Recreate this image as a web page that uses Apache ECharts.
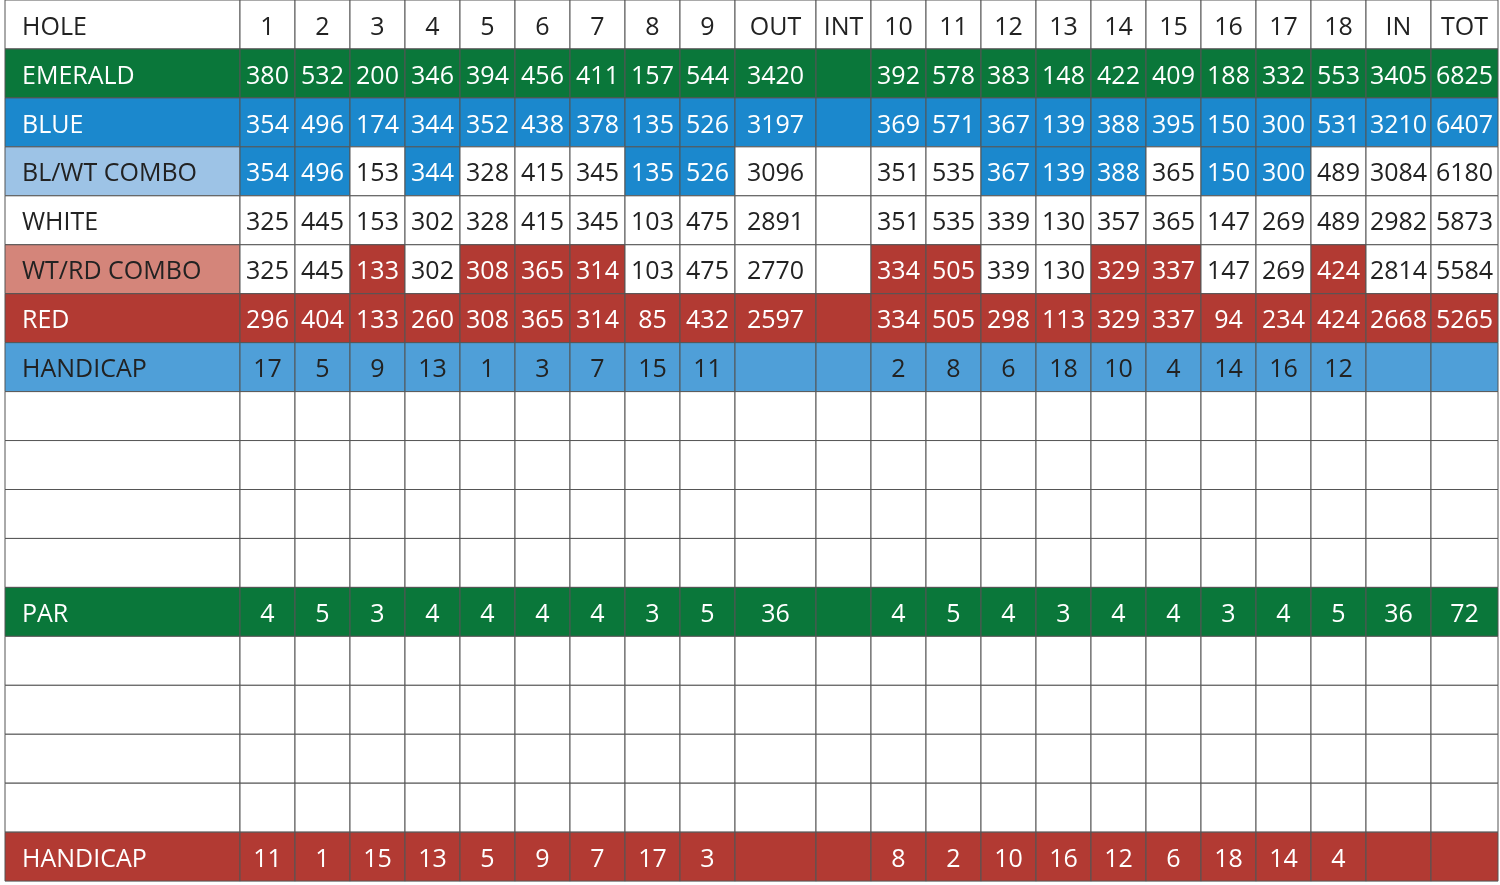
<!DOCTYPE html>
<html><head><meta charset="utf-8">
<style>html,body{margin:0;padding:0;background:#fff}#chart{width:1500px;height:885px}</style>
<script src="https://cdn.jsdelivr.net/npm/echarts@6/dist/echarts.min.js"></script>
</head><body><div id="chart"></div>
<script>
var columns = ['HOLE','1','2','3','4','5','6','7','8','9','OUT','INT','10','11','12','13','14','15','16','17','18','IN','TOT'];
var emerald = ['380','532','200','346','394','456','411','157','544','3420','','392','578','383','148','422','409','188','332','553','3405','6825'];
var blue    = ['354','496','174','344','352','438','378','135','526','3197','','369','571','367','139','388','395','150','300','531','3210','6407'];
var blwt    = ['354','496','153','344','328','415','345','135','526','3096','','351','535','367','139','388','365','150','300','489','3084','6180'];
var white   = ['325','445','153','302','328','415','345','103','475','2891','','351','535','339','130','357','365','147','269','489','2982','5873'];
var wtrd    = ['325','445','133','302','308','365','314','103','475','2770','','334','505','339','130','329','337','147','269','424','2814','5584'];
var red     = ['296','404','133','260','308','365','314','85','432','2597','','334','505','298','113','329','337','94','234','424','2668','5265'];
var hcpMen  = ['17','5','9','13','1','3','7','15','11','','','2','8','6','18','10','4','14','16','12','',''];
var par     = ['4','5','3','4','4','4','4','3','5','36','','4','5','4','3','4','4','3','4','5','36','72'];
var hcpLady = ['11','1','15','13','5','9','7','17','3','','','8','2','10','16','12','6','18','14','4','',''];
var blwtBlue = ['1','2','4','8','9','12','13','14','16','17'];
var wtrdRed  = ['3','5','6','7','10','11','14','15','18'];

var colW = [235,55,55,55,55,55,55,55,55,55,81,55,55,55,55,55,55,55,55,55,55,65,67];
var colEdge = [5];
colW.forEach(function(w){ colEdge.push(colEdge[colEdge.length-1]+w); });
var rowH = 48.95;

var C = {green:'#0a773a', blue:'#1b88cd', lblue:'#9dc3e6', salmon:'#d4857a', red:'#b23a33', hblue:'#4f9fd8', dark:'#222'};

var rows = [
  {label:'HOLE', vals:columns.slice(1), fill:'#fff', color:C.dark},
  {label:'EMERALD', vals:emerald, fill:C.green, color:'#fff'},
  {label:'BLUE', vals:blue, fill:C.blue, color:'#fff'},
  {label:'BL/WT COMBO', vals:blwt, fill:'#fff', color:C.dark, labelFill:C.lblue, hi:blwtBlue, hiFill:C.blue},
  {label:'WHITE', vals:white, fill:'#fff', color:C.dark},
  {label:'WT/RD COMBO', vals:wtrd, fill:'#fff', color:C.dark, labelFill:C.salmon, hi:wtrdRed, hiFill:C.red},
  {label:'RED', vals:red, fill:C.red, color:'#fff'},
  {label:'HANDICAP', vals:hcpMen, fill:C.hblue, color:C.dark},
  {label:'', vals:[], fill:'#fff'},{label:'', vals:[], fill:'#fff'},{label:'', vals:[], fill:'#fff'},{label:'', vals:[], fill:'#fff'},
  {label:'PAR', vals:par, fill:C.green, color:'#fff'},
  {label:'', vals:[], fill:'#fff'},{label:'', vals:[], fill:'#fff'},{label:'', vals:[], fill:'#fff'},{label:'', vals:[], fill:'#fff'},
  {label:'HANDICAP', vals:hcpLady, fill:C.red, color:'#fff'}
];

var data = [];
rows.forEach(function(r, ri){
  for (var ci = 0; ci < columns.length; ci++) {
    var txt, fill = r.fill, color = r.color || C.dark;
    if (ci === 0) { txt = r.label; if (r.labelFill) fill = r.labelFill; }
    else {
      txt = r.vals[ci-1] || '';
      if (r.hi && r.hi.indexOf(columns[ci]) >= 0) { fill = r.hiFill; color = '#fff'; }
    }
    data.push([ci, ri, txt, fill, color]);
  }
});

var chart = echarts.init(document.getElementById('chart'));
chart.setOption({
  animation:false,
  grid:{left:0,right:0,top:0,bottom:0},
  xAxis:{type:'value',min:0,max:1500,show:false},
  yAxis:{type:'value',min:0,max:885,inverse:true,show:false},
  series:[{
    type:'custom',
    data:data,
    renderItem:function(params, api){
      var ci = api.value(0), ri = api.value(1);
      var d = data[params.dataIndex];
      var p0 = api.coord([colEdge[ci], ri*rowH]);
      var p1 = api.coord([colEdge[ci+1], (ri+1)*rowH]);
      var w = p1[0]-p0[0], h = p1[1]-p0[1];
      return {type:'group', children:[
        {type:'rect', shape:{x:p0[0],y:p0[1],width:w,height:h},
         style:{fill:d[3], stroke:'#555', lineWidth:1}},
        {type:'text', style:{
          text:d[2], x: ci===0 ? p0[0]+17 : p0[0]+w/2, y:p0[1]+h/2+3,
          align: ci===0 ? 'left' : 'center', verticalAlign:'middle',
          fill:d[4], font:'500 25px "Open Sans"'}}
      ]};
    }
  }]
});
</script></body></html>
